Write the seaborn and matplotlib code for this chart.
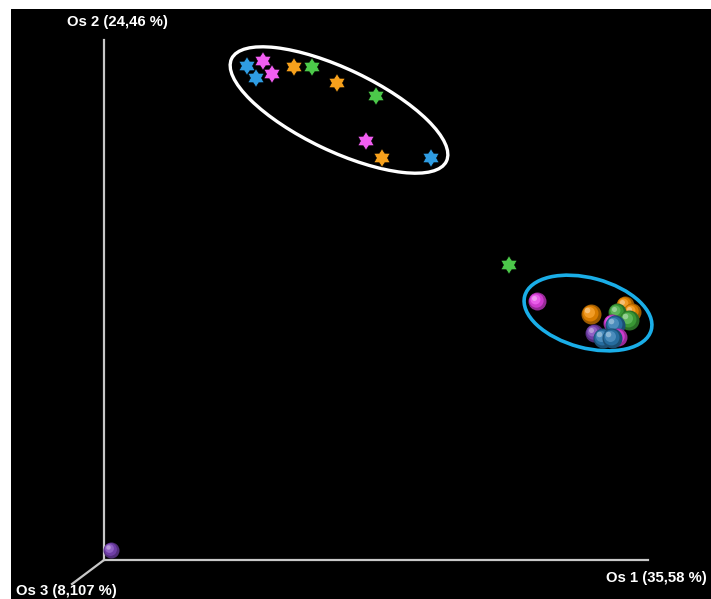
import numpy as np
import pandas as pd
import matplotlib
matplotlib.use('Agg')
import matplotlib.pyplot as plt
import matplotlib.colors as mcolors
from matplotlib.patches import Ellipse
from matplotlib.path import Path
import seaborn as sns

# PCoA scores (screen-like units)
star_x = [247, 263, 256, 272, 294, 312, 337, 376, 366, 382, 431, 509]
star_y = [66, 61, 78, 74, 67, 67, 83, 96, 141, 158, 158, 265]
star_grp = ['blue', 'pink', 'blue', 'pink', 'orange', 'green', 'orange',
            'green', 'pink', 'orange', 'blue', 'green']

ball_x = [111, 537, 625, 632, 591, 617, 629, 612, 594, 615, 618, 603, 612]
ball_y = [550, 301, 305, 312, 314, 312, 320, 323, 333, 325, 337, 338, 338]
ball_grp = ['purple', 'pink', 'orange', 'orange', 'orange', 'green', 'green',
            'pink', 'purple', 'dblue', 'pink', 'dblue', 'dblue']
ball_r = [8, 9, 9, 9, 10, 9, 10, 9, 9, 10, 9, 10, 10]

axis_labels = ['Os 1 (35,58 %)', 'Os 2 (24,46 %)', 'Os 3 (8,107 %)']

star_colors = {'blue': '#2f9de3', 'pink': '#f25ef2', 'orange': '#f7a11c',
               'green': '#4cc94a'}
ball_colors = {'purple': '#7b45b8', 'pink': '#e640e6', 'orange': '#f08a00',
               'green': '#3fa83a', 'dblue': '#2a78b0'}


def shade(c, f):
    rgb = np.array(mcolors.to_rgb(c))
    if f >= 0:
        return tuple(rgb + (1 - rgb) * f)
    return tuple(rgb * (1 + f))


# six-pointed star marker
ang = np.linspace(0, 2 * np.pi, 13)[:-1] + np.pi / 2
rad = np.where(np.arange(12) % 2 == 0, 1.0, 0.6)
verts = np.column_stack([rad * np.cos(ang), rad * np.sin(ang)])
verts = np.vstack([verts, verts[0]])
star_marker = Path(verts, [Path.MOVETO] + [Path.LINETO] * 11 + [Path.CLOSEPOLY])

fig = plt.figure(figsize=(7.11, 5.99), dpi=100, facecolor='white')
ax = fig.add_axes([11 / 711, 0, 700 / 711, 590 / 599])
ax.set_facecolor('black')
ax.set_xlim(11, 711)
ax.set_ylim(599, 9)
ax.set_axis_off()
ax.add_patch(plt.Rectangle((11, 9), 700, 590, color='black', zorder=0))

# axes of the 3D view
ox, oy = 104, 560
ax.plot([ox, ox], [oy, 40], color='#c8c8c8', lw=1.6, zorder=1)
ax.plot([ox, 648], [oy, oy], color='#c8c8c8', lw=1.6, zorder=1)
ax.plot([ox, 72], [oy, 584], color='#c8c8c8', lw=1.6, zorder=1)

font = dict(family='Liberation Sans', weight='bold', size=10.7, color='white')
ax.text(707, 578, axis_labels[0], ha='right', va='center', **font)
ax.text(117, 22, axis_labels[1], ha='center', va='center', **font)
ax.text(16, 591, axis_labels[2], ha='left', va='center', **font)

# group ellipses
ax.add_patch(Ellipse((339, 110), 238, 82, angle=25.5, fill=False,
                     edgecolor='white', lw=2.4, zorder=2))
ax.add_patch(Ellipse((588, 313), 131, 70, angle=15, fill=False,
                     edgecolor='#1aaee8', lw=2.6, zorder=2))

stars = pd.DataFrame({'x': star_x, 'y': star_y, 'grp': star_grp})
sns.scatterplot(data=stars, x='x', y='y', hue='grp', palette=star_colors,
                marker=star_marker, s=175, linewidth=0.4, edgecolor='#000000',
                legend=False, ax=ax, zorder=3)

# shaded balls, one by one so overlap order is kept
px = 72 / 100
for i in range(len(ball_x)):
    c = ball_colors[ball_grp[i]]
    r = ball_r[i]
    layers = [(1.0, -0.35, 0), (0.8, -0.1, 0.12), (0.55, 0.15, 0.25), (0.28, 0.45, 0.38)]
    for k, (fr, f, off) in enumerate(layers):
        d = pd.DataFrame({'x': [ball_x[i] - off * r], 'y': [ball_y[i] - off * r]})
        sns.scatterplot(data=d, x='x', y='y', color=shade(c, f),
                        s=(2 * r * fr * px) ** 2, linewidth=0,
                        legend=False, ax=ax, zorder=4 + i * 0.01 + k * 0.001)

ax.set_xlim(11, 711)
ax.set_ylim(599, 9)
fig.savefig('out.png', dpi=100, facecolor='white')
